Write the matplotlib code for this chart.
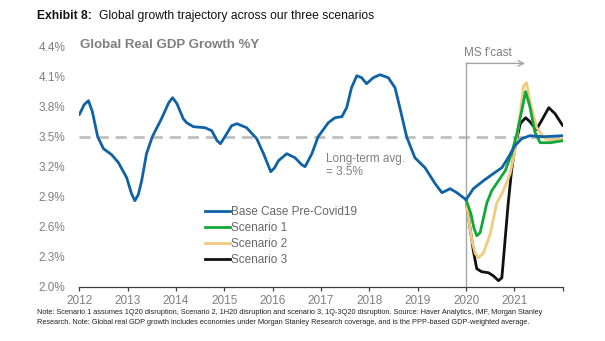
import matplotlib
matplotlib.use("Agg")
import matplotlib.pyplot as plt
from matplotlib.lines import Line2D

plt.rcParams['font.family'] = ['Liberation Sans', 'DejaVu Sans']

# Base case (history through 2019, then pre-Covid forecast)
base_x = [2012.00, 2012.10, 2012.19, 2012.27, 2012.38, 2012.50, 2012.67, 2012.81, 2012.98,
          2013.08, 2013.15, 2013.22, 2013.29, 2013.39, 2013.51, 2013.70, 2013.85, 2013.93,
          2014.02, 2014.15, 2014.22, 2014.36, 2014.60, 2014.74, 2014.85, 2014.92, 2015.05,
          2015.15, 2015.26, 2015.46, 2015.67, 2015.81, 2015.96, 2016.04, 2016.12, 2016.29,
          2016.46, 2016.60, 2016.67, 2016.81, 2016.94, 2017.15, 2017.29, 2017.43, 2017.53,
          2017.63, 2017.74, 2017.84, 2017.94, 2018.08, 2018.22, 2018.39, 2018.53, 2018.63,
          2018.77, 2018.94, 2019.15, 2019.36, 2019.50, 2019.67, 2019.81, 2020.00, 2020.15,
          2020.36, 2020.56, 2020.74, 2020.87, 2021.01, 2021.15, 2021.32, 2021.60, 2022.00]
base_y = [3.72, 3.82, 3.86, 3.75, 3.50, 3.38, 3.32, 3.24, 3.09,
          2.93, 2.86, 2.92, 3.06, 3.33, 3.50, 3.68, 3.84, 3.89,
          3.83, 3.68, 3.64, 3.60, 3.59, 3.56, 3.46, 3.43, 3.53,
          3.61, 3.63, 3.59, 3.48, 3.33, 3.15, 3.19, 3.26, 3.33,
          3.29, 3.22, 3.20, 3.33, 3.50, 3.64, 3.69, 3.70, 3.79,
          3.99, 4.11, 4.09, 4.03, 4.09, 4.12, 4.09, 3.99, 3.79,
          3.50, 3.29, 3.19, 3.03, 2.94, 2.98, 2.94, 2.87, 2.98,
          3.06, 3.13, 3.19, 3.29, 3.41, 3.48, 3.51, 3.50, 3.51]

s1_x = [2020.00, 2020.10, 2020.16, 2020.22, 2020.29, 2020.36, 2020.43, 2020.53, 2020.67,
        2020.81, 2020.94, 2021.05, 2021.15, 2021.23, 2021.32, 2021.42, 2021.53, 2021.75, 2022.00]
s1_y = [2.87, 2.73, 2.59, 2.51, 2.54, 2.69, 2.84, 2.96, 3.06,
        3.16, 3.33, 3.53, 3.76, 3.95, 3.80, 3.55, 3.44, 3.44, 3.46]

s2_x = [2020.00, 2020.05, 2020.12, 2020.19, 2020.26, 2020.36, 2020.50, 2020.63, 2020.77,
        2020.91, 2021.01, 2021.12, 2021.19, 2021.25, 2021.33, 2021.46, 2021.63, 2021.78, 2022.00]
s2_y = [2.87, 2.69, 2.46, 2.33, 2.29, 2.34, 2.53, 2.83, 2.96,
        3.13, 3.36, 3.73, 4.01, 4.04, 3.83, 3.59, 3.48, 3.46, 3.48]

s3_x = [2020.00, 2020.08, 2020.15, 2020.22, 2020.32, 2020.46, 2020.56, 2020.67, 2020.74,
        2020.81, 2020.87, 2020.94, 2021.01, 2021.12, 2021.23, 2021.32, 2021.45, 2021.56,
        2021.71, 2021.84, 2022.00]
s3_y = [2.87, 2.59, 2.36, 2.18, 2.15, 2.14, 2.11, 2.06, 2.09,
        2.49, 2.83, 3.16, 3.39, 3.63, 3.69, 3.65, 3.57, 3.66,
        3.79, 3.73, 3.61]

long_term_avg = 3.5
forecast_start = 2020
year_ticks = list(range(2012, 2023))
year_labels = [str(y) for y in range(2012, 2022)] + [""]
y_ticks = [2.0, 2.3, 2.6, 2.9, 3.2, 3.5, 3.8, 4.1, 4.4]
y_labels = ["2.0%", "2.3%", "2.6%", "2.9%", "3.2%", "3.5%", "3.8%", "4.1%", "4.4%"]
series_names = ["Base Case Pre-Covid19", "Scenario 1", "Scenario 2", "Scenario 3"]

BLUE = "#0F62A6"
GREEN = "#12A838"
TAN = "#F0CB7E"
BLACK = "#111111"
GREY_TXT = "#7F7F7F"

W, H = 605, 341
fig = plt.figure(figsize=(W / 100, H / 100), dpi=100)
ax = fig.add_axes([79.3 / W, (H - 286.7) / H, (562.8 - 79.3) / W, 240.0 / H])
ax.set_xlim(2012, 2022)
ax.set_ylim(2.0, 4.4)

ax.axhline(long_term_avg, color="#BFBFBF", lw=2.0, dashes=(4, 2.5), zorder=1)

# Forecast marker
top_y = 4.233
ax.plot([forecast_start, forecast_start], [2.0, top_y], color="#A6A6A6", lw=1.0, zorder=1)
ax.annotate("", xy=(2021.22, top_y), xytext=(forecast_start, top_y),
            arrowprops=dict(arrowstyle="->", color="#A6A6A6", lw=1.0,
                            shrinkA=0, shrinkB=0, mutation_scale=10))
ax.text(2019.95, 4.333, "MS f'cast", color=GREY_TXT, fontsize=8.5, va="center", ha="left")

ax.plot(s3_x, s3_y, color=BLACK, lw=2.0, solid_capstyle="round", zorder=3)
ax.plot(s2_x, s2_y, color=TAN, lw=2.0, solid_capstyle="round", zorder=4)
ax.plot(s1_x, s1_y, color=GREEN, lw=2.0, solid_capstyle="round", zorder=5)
ax.plot(base_x, base_y, color=BLUE, lw=2.0, solid_capstyle="round", zorder=6)

ax.text(2017.10, 3.21, "Long-term avg.\n= 3.5%", color=GREY_TXT, fontsize=8.5,
        va="center", ha="left", linespacing=1.05)

# Axes styling
for side in ("left", "right", "top"):
    ax.spines[side].set_visible(False)
ax.spines["bottom"].set_color("#404040")
ax.spines["bottom"].set_linewidth(0.9)
ax.set_xticks(year_ticks)
ax.set_xticklabels(year_labels)
ax.set_yticks(y_ticks)
ax.set_yticklabels(y_labels)
ax.tick_params(axis="x", direction="out", length=3, width=0.9, color="#404040",
               labelsize=8.5, labelcolor=GREY_TXT, pad=3)
ax.tick_params(axis="y", length=0, labelsize=8.5, labelcolor=GREY_TXT, pad=10)

handles = [Line2D([0], [0], color=c, lw=2.0) for c in (BLUE, GREEN, TAN, BLACK)]
leg = fig.legend(handles, series_names, loc="upper left",
                 bbox_to_anchor=(205 / W, 1 - 206 / H), frameon=False,
                 fontsize=8.5, handlelength=2.1, handletextpad=0.1,
                 labelspacing=0.33, borderpad=0, borderaxespad=0)
for t in leg.get_texts():
    t.set_color("#666666")

fig.text(37 / W, 1 - 16 / H, "Exhibit 8:", fontsize=8.7, fontweight="bold",
         va="center", ha="left", color="#111111")
fig.text(99 / W, 1 - 16 / H, "Global growth trajectory across our three scenarios",
         fontsize=8.7, va="center", ha="left", color="#111111")
fig.text(80 / W, 1 - 45 / H, "Global Real GDP Growth %Y", fontsize=9.5,
         fontweight="bold", va="center", ha="left", color=GREY_TXT)

fig.text(37 / W, 1 - 309 / H,
         "Note: Scenario 1 assumes 1Q20 disruption, Scenario 2, 1H20 disruption and scenario 3, "
         "1Q-3Q20 disruption. Source: Haver Analytics, IMF, Morgan Stanley\n"
         "Research. Note: Global real GDP growth includes economies under Morgan Stanley Research "
         "coverage, and is the PPP-based GDP-weighted average.",
         fontsize=5.35, va="top", ha="left", color="#222222", linespacing=1.5)

fig.savefig("out.png", dpi=100)
